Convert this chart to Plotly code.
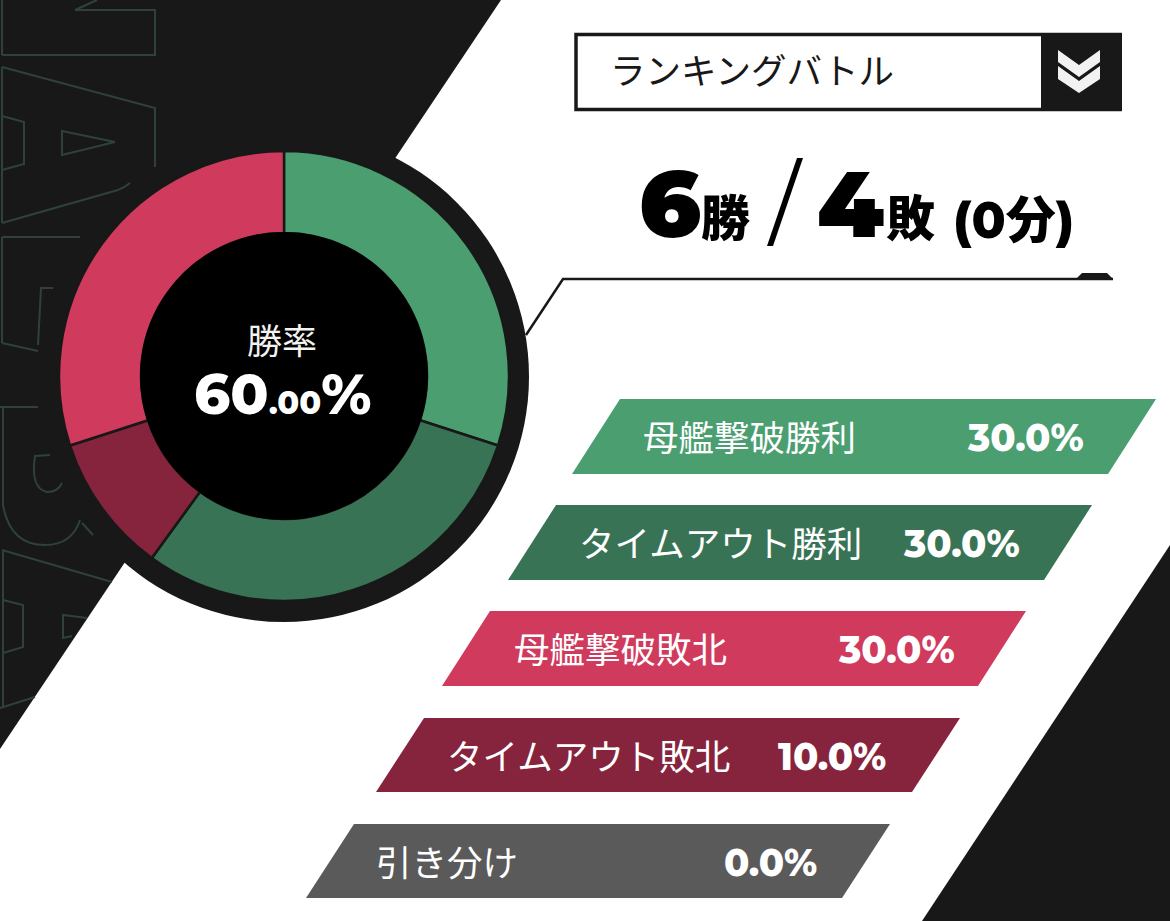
import plotly.graph_objects as go

W = 1170
H = 921

# pie data, clockwise from the top
slice_names = ['母艦撃破勝利', 'タイムアウト勝利', '引き分け', 'タイムアウト敗北', '母艦撃破敗北']
slice_values = [30.0, 30.0, 0.0, 10.0, 30.0]
slice_colors = ['#4A9E70', '#397355', '#5A5A5A', '#86233D', '#D03A5D']

# legend rows, top to bottom
legend_names = ['母艦撃破勝利', 'タイムアウト勝利', '母艦撃破敗北', 'タイムアウト敗北', '引き分け']
legend_values = [30.0, 30.0, 30.0, 10.0, 0.0]
legend_colors = ['#4A9E70', '#397355', '#D03A5D', '#86233D', '#5A5A5A']

wins = 6
losses = 4
draws = 0
win_rate = 60.00
mode_name = 'ランキングバトル'

DARK = '#181818'
GHOST = '#2E423B'
JP = 'Noto Sans CJK JP'
NUM = 'Montserrat, Inter, Noto Sans CJK JP'

# pixel layout of the legend rows
row_top = [399, 505, 611, 718, 824]
row_left = [572, 508, 442, 376, 306]
row_h = [75, 75, 75, 74, 74]
row_w = 536
row_skew = 48
name_x = [749, 720, 620, 588, 447]
value_x = [1025, 961, 896, 832, 770]

CX, CY = 284, 376
R_OUT, R_IN = 225, 143
R_RING = 245


def poly(points, fill, **kw):
    path = 'M' + ' L'.join(f'{x},{y}' for x, y in points) + ' Z'
    return dict(type='path', path=path, fillcolor=fill, line=dict(width=0), layer=kw.get('layer', 'below'))


def ghost(path):
    return dict(type='path', path=path, line=dict(color=GHOST, width=2), layer='below')


shapes = [
    poly([(0, 0), (501, 0), (0, 749)], DARK),
    poly([(1170, 545), (1170, 921), (922, 921)], DARK),
]

# outlined background lettering on the dark panel
ghost_paths = [
    'M97,0 L75,10 L155,10 L155,55 L2,55',
    'M2,0 L2,55',
    'M2,67 L155,108 L155,167',
    'M130,183 Q124,188 118,190 L2,223',
    'M2,67 L2,223',
    'M2,116 L24,122 L24,164 L2,170',
    'M62,131 L115,142 L62,155 Z',
    'M2,237 L80,237',
    'M2,237 L2,343',
    'M53,288 L41,288 L38,345',
    'M2,343 L38,351',
    'M0,407 L38,407',
    'M3,407 L3,505 Q10,545 45,545 Q72,545 80,520',
    'M82,523 L93,535',
    'M50,455 L35,456 Q30,488 47,492 Q58,492 62,483',
    'M2,550 L112,582',
    'M3,550 L3,708',
    'M3,600 L23,605 L23,647 L3,653',
    'M87,618 L63,615 L63,638 L72,636',
    'M0,708 L35,697',
]
shapes += [ghost(p) for p in ghost_paths]

# ring and leader line under the pie
shapes.append(dict(type='path', path='M526,335 L563,279 L1113,279',
                   line=dict(color='#181818', width=2.5), layer='below'))
shapes.append(poly([(1076, 279), (1082, 273), (1107, 273), (1113, 279)], DARK))
shapes.append(dict(type='circle', x0=CX - R_RING, x1=CX + R_RING, y0=CY - R_RING, y1=CY + R_RING + 1,
                   fillcolor=DARK, line=dict(width=0), layer='below'))
shapes.append(dict(type='circle', x0=CX - R_IN - 1, x1=CX + R_IN + 1, y0=CY - R_IN - 1, y1=CY + R_IN + 1,
                   fillcolor='#000000', line=dict(width=0), layer='above'))

# mode selector box
shapes.append(dict(type='rect', x0=576, x1=1120, y0=34.5, y1=109.5, fillcolor='white',
                   line=dict(color=DARK, width=3.5), layer='below'))
shapes.append(dict(type='rect', x0=1041, x1=1122, y0=33, y1=111, fillcolor=DARK,
                   line=dict(width=0), layer='below'))
shapes.append(poly([(1058, 50), (1079, 65), (1100, 50), (1100, 62), (1079, 77), (1058, 62)], '#F2F2F2'))
shapes.append(poly([(1058, 66), (1079, 81), (1100, 66), (1100, 79), (1079, 93), (1058, 79)], '#F2F2F2'))

# score slash
shapes.append(poly([(767, 246), (773, 246), (803, 158), (797, 158)], '#000000'))

annotations = []


def label(x, y, text, size, color, family=JP, weight=400, anchor='center'):
    annotations.append(dict(x=x, y=y, text=text, showarrow=False, xanchor=anchor, yanchor='middle',
                            font=dict(family=family, size=size, color=color, weight=weight)))


for i, name in enumerate(legend_names):
    top, left, h = row_top[i], row_left[i], row_h[i]
    shapes.append(poly([(left, top + h), (left + row_skew, top),
                        (left + row_skew + row_w, top), (left + row_w, top + h)], legend_colors[i]))
    label(name_x[i], top + h / 2 - 1, name, 35.5, 'white')
    label(value_x[i], top + h / 2 + 1, f'{legend_values[i]:.1f}%', 37, 'white', NUM, 800)

label(752, 68, mode_name, 35.5, '#181818')
label(637, 203, str(wins), 94, '#000000', NUM, 900, 'left')
label(699, 214, '勝', 49, '#000000', JP, 900, 'left')
label(815, 203, str(losses), 94, '#000000', NUM, 900, 'left')
label(884, 214, '敗', 49, '#000000', JP, 900, 'left')
label(951, 216, f'({draws}<span style="font-family:{JP}">分</span>)', 50, '#000000', NUM, 800, 'left')

label(282, 338, '勝率', 35, '#F2F2F2')
whole, frac = f'{win_rate:.2f}'.split('.')
label(282, 394, f'{whole}<span style="font-size:32px">.{frac}</span>%', 56, 'white', NUM, 800)

fig = go.Figure()
# empty trace so the pixel axes exist for shapes and labels
fig.add_trace(go.Scatter(x=[0, W], y=[0, H], mode='none', showlegend=False, hoverinfo='skip'))
fig.add_trace(go.Pie(
    labels=slice_names,
    values=slice_values,
    sort=False,
    direction='clockwise',
    rotation=0,
    hole=R_IN / R_OUT,
    textinfo='none',
    showlegend=False,
    marker=dict(colors=slice_colors, line=dict(color=DARK, width=2.5)),
    domain=dict(x=[(CX - R_OUT) / W, (CX + R_OUT) / W], y=[1 - (CY + R_OUT) / H, 1 - (CY - R_OUT) / H]),
))

fig.update_layout(
    width=W,
    height=H,
    margin=dict(l=0, r=0, t=0, b=0),
    paper_bgcolor='white',
    plot_bgcolor='white',
    showlegend=False,
    shapes=shapes,
    annotations=annotations,
    xaxis=dict(range=[0, W], visible=False, fixedrange=True),
    yaxis=dict(range=[H, 0], visible=False, fixedrange=True),
)

fig.write_html("out.html", config=dict(displayModeBar=False),
               post_script="document.body.style.margin='0';")
